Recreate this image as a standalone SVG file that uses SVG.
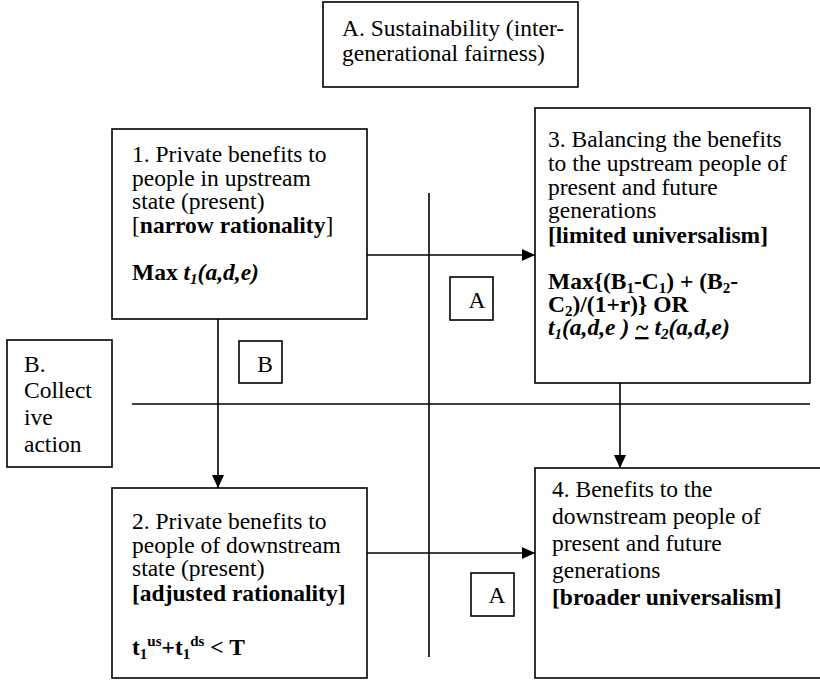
<svg xmlns="http://www.w3.org/2000/svg" width="820" height="680" viewBox="0 0 820 680">
<style>
.box{fill:#fff;stroke:#000;stroke-width:1.6}
.ln{fill:none;stroke:#000;stroke-width:1.6}
text{font-family:"Liberation Serif",Tinos,"Times New Roman","Nimbus Roman","Nimbus Roman No9 L",FreeSerif,"DejaVu Serif",serif;font-size:23.5px;fill:#000}
.b{font-weight:bold}
.bi{font-weight:bold;font-style:italic}
.sm{font-size:15px}
</style>
<defs>
<marker id="ah" markerUnits="userSpaceOnUse" markerWidth="14" markerHeight="12" refX="13" refY="6" orient="auto">
<path d="M0,0 L13,6 L0,12 Z" fill="#000"/>
</marker>
</defs>
<rect width="820" height="680" fill="#fff"/>
<g id="connectors">
<line class="ln" x1="429" y1="193" x2="429" y2="657"/>
<line class="ln" x1="132" y1="404" x2="810" y2="404"/>
<line class="ln" x1="367" y1="255" x2="535" y2="255" marker-end="url(#ah)"/>
<line class="ln" x1="367" y1="553" x2="535" y2="553" marker-end="url(#ah)"/>
<line class="ln" x1="218" y1="319" x2="218" y2="488" marker-end="url(#ah)"/>
<line class="ln" x1="620" y1="383" x2="620" y2="468" marker-end="url(#ah)"/>
</g>
<g id="nodeA">
<rect class="box" x="323" y="2" width="255" height="85"/>
<text x="342" y="36">A. Sustainability (inter-</text>
<text x="342" y="61">generational fairness)</text>
</g>
<g id="node1">
<rect class="box" x="112" y="129" width="255" height="190"/>
<text x="132" y="162">1. Private benefits to</text>
<text x="132" y="186">people in upstream</text>
<text x="132" y="209">state (present)</text>
<text x="132" y="233">[<tspan class="b">narrow rationality</tspan>]</text>
<text x="132" y="280" class="b">Max <tspan class="bi">t</tspan><tspan class="bi sm" dy="4">1</tspan><tspan class="bi" dy="-4">(a,d,e)</tspan></text>
</g>
<g id="node3">
<rect class="box" x="535" y="108" width="275" height="275"/>
<text x="548" y="147">3. Balancing the benefits</text>
<text x="548" y="171">to the upstream people of</text>
<text x="548" y="195">present and future</text>
<text x="548" y="218">generations</text>
<text x="548" y="243" class="b">[limited universalism]</text>
<text x="548" y="289" class="b">Max{(B<tspan class="sm" dy="4">1</tspan><tspan dy="-4">-C</tspan><tspan class="sm" dy="4">1</tspan><tspan dy="-4">) + (B</tspan><tspan class="sm" dy="4">2</tspan><tspan dy="-4">-</tspan></text>
<text x="548" y="312" class="b">C<tspan class="sm" dy="4">2</tspan><tspan dy="-4">)/(1+r)} OR</tspan></text>
<text x="548" y="335" class="bi">t<tspan class="sm" dy="4">1</tspan><tspan dy="-4">(a,d,e ) </tspan><tspan text-decoration="underline">~</tspan><tspan>  t</tspan><tspan class="sm" dy="4">2</tspan><tspan dy="-4">(a,d,e)</tspan></text>
</g>
<g id="nodeB">
<rect class="box" x="7" y="340" width="105" height="127"/>
<text x="24" y="372">B.</text>
<text x="24" y="398">Collect</text>
<text x="24" y="425">ive</text>
<text x="24" y="452">action</text>
</g>
<g id="labelB">
<rect class="box" x="239" y="341" width="43" height="42"/>
<text x="265" y="372" text-anchor="middle">B</text>
</g>
<g id="node2">
<rect class="box" x="112" y="488" width="255" height="190"/>
<text x="132" y="529">2. Private benefits to</text>
<text x="132" y="553">people of downstream</text>
<text x="132" y="576">state (present)</text>
<text x="132" y="601" class="b">[adjusted rationality]</text>
<text x="132" y="655" class="b">t<tspan class="sm" dy="4">1</tspan><tspan class="sm" dy="-13">us</tspan><tspan dy="9">+t</tspan><tspan class="sm" dy="4">1</tspan><tspan class="sm" dy="-13">ds</tspan><tspan dy="9"> &lt; T</tspan></text>
</g>
<g id="node4">
<rect class="box" x="535" y="468" width="300" height="210"/>
<text x="552" y="497">4. Benefits to the</text>
<text x="552" y="524">downstream people of</text>
<text x="552" y="551">present and future</text>
<text x="552" y="578">generations</text>
<text x="552" y="605" class="b">[broader universalism]</text>
</g>
<g id="labelA1">
<rect class="box" x="450" y="277" width="43" height="43"/>
<text x="477" y="308" text-anchor="middle">A</text>
</g>
<g id="labelA2">
<rect class="box" x="471" y="573" width="43" height="43"/>
<text x="497" y="603" text-anchor="middle">A</text>
</g>
</svg>
